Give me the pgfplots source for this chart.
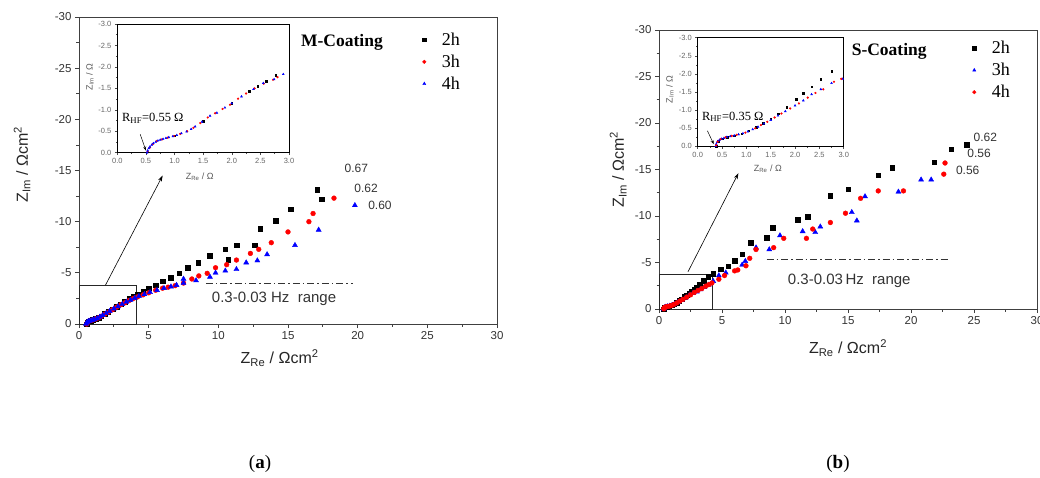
\documentclass[border=0pt]{standalone}
\usepackage{fontspec}
\setmainfont{Liberation Sans}
\newfontfamily\serif{Liberation Serif}
\usepackage{pgfplots}
\pgfplotsset{compat=1.18}
\usetikzlibrary{arrows.meta}

\tikzset{
  ann/.style={font=\fontsize{12}{14}\selectfont, text=black!80},
  hz/.style={font=\fontsize{15}{17}\selectfont, text=black!80},
}
\pgfplotsset{
  mainax/.style={
    scale only axis, clip=false,
    xmin=0, xmax=30, ymin=-30, ymax=0, y dir=reverse,
    xtick={0,5,...,30}, ytick={-30,-25,...,0},
    minor tick num=1, tick align=outside, tick pos=left,
    axis line style={black!75, line width=0.9pt},
    every tick/.style={black!75, line width=0.8pt},
    major tick length=4pt, minor tick length=2.5pt,
    tick label style={font=\fontsize{11.5}{13}\selectfont, text=black!80},
    label style={font=\fontsize{16}{18}\selectfont, text=black!85},
    /pgf/number format/assume math mode=true,
    legend style={draw=none, fill=none, anchor=north west,
      font=\serif\fontsize{18}{20}\selectfont, row sep=4pt},
    legend cell align=left,
    legend image code/.code={
      \path[draw=none, fill=none] (0cm,-0.1cm) rectangle (0.85cm,0.1cm);
      \draw[##1, mark size=1.8pt] plot coordinates {(0.3cm,0cm)};
    },
  },
  inax/.style={
    scale only axis, clip=false,
    axis background/.style={fill=white},
    xmin=0, xmax=3, ymin=-3, ymax=0, y dir=reverse,
    xtick={0,0.5,...,3}, ytick={-3,-2.5,...,0},
    minor tick num=1, tick align=outside, tick pos=left,
    axis line style={black, line width=0.7pt},
    every tick/.style={black!70, line width=0.5pt},
    major tick length=2.5pt, minor tick length=1.5pt,
    tick label style={font=\fontsize{7.5}{8}\selectfont, text=black!60},
    label style={font=\fontsize{9}{10}\selectfont, text=black!65},
    /pgf/number format/.cd, fixed, fixed zerofill, precision=1, assume math mode=true,
  },
  blk/.style={only marks, mark=square*, mark size=2.3pt, black},
  rd/.style={only marks, mark=*, mark size=2.4pt, red},
  bl/.style={only marks, mark=triangle*, mark size=2.9pt, blue},
  iblk/.style={only marks, mark=square*, mark size=0.8pt, black},
  ird/.style={only marks, mark=*, mark size=0.9pt, red},
  ibl/.style={only marks, mark=triangle*, mark size=1.1pt, blue},
  dd/.style={black!80, line width=0.9pt, dash pattern=on 7pt off 3pt on 1.5pt off 3pt, forget plot},
}

\begin{document}
\begin{tikzpicture}
\useasboundingbox (0,0) rectangle (1040pt,-477pt);

% ---------- (a) M-Coating ----------
\begin{axis}[mainax, at={(79pt,-324pt)}, anchor=south west,
    width=418pt, height=307pt,
    xlabel={Z\textsubscript{Re} / Ωcm\textsuperscript{2}},
    ylabel={Z\textsubscript{Im} / Ωcm\textsuperscript{2}},
    xlabel style={at={(axis description cs:0.48,-0.11)}, anchor=center},
    ylabel style={at={(axis description cs:-0.136,0.52)}, anchor=center},
    legend style={at={(rel axis cs:0.798,0.962)}},
  ]
  \addplot[blk] coordinates {
    (0.55,0)(0.6,-0.15)(0.7,-0.28)(0.85,-0.35)(1.0,-0.41)(1.2,-0.5)(1.4,-0.62)
    (1.6,-0.78)(1.85,-0.98)(2.1,-1.2)(2.4,-1.45)(2.7,-1.72)(3.0,-1.95)(3.3,-2.2)
    (3.6,-2.45)(3.9,-2.68)(4.2,-2.9)(4.6,-3.2)(5.0,-3.5)(5.5,-3.8)(6.0,-4.2)
    (6.6,-4.5)(7.2,-4.95)(7.8,-5.5)(8.55,-6.0)(9.4,-6.7)(10.7,-6.3)(10.5,-7.3)
    (11.3,-7.7)(12.6,-7.7)(13.0,-9.3)(14.1,-10.1)(15.2,-11.2)(17.4,-12.2)(17.1,-13.1)
  };
  \addlegendentry{2h}
  \addplot[rd] coordinates {
    (0.55,0)(0.6,-0.14)(0.7,-0.27)(0.85,-0.34)(1.0,-0.4)(1.2,-0.49)(1.4,-0.6)
    (1.6,-0.76)(1.85,-0.96)(2.1,-1.15)(2.4,-1.4)(2.7,-1.65)(3.0,-1.88)(3.3,-2.08)
    (3.6,-2.3)(3.9,-2.5)(4.2,-2.65)(4.6,-2.85)(5.0,-3.05)(5.5,-3.3)(6.0,-3.5)
    (6.4,-3.6)(6.9,-3.75)(7.5,-4.0)(8.1,-4.4)(8.6,-4.7)(9.2,-4.95)(9.8,-5.5)
    (10.6,-5.8)(11.3,-6.25)(12.3,-6.9)(12.9,-7.3)(13.8,-7.95)(15.0,-9.0)
    (16.5,-10.0)(16.8,-10.8)(18.3,-12.3)
  };
  \addlegendentry{3h}
  \addplot[bl] coordinates {
    (0.5,0)(0.55,-0.12)(0.6,-0.2)(0.7,-0.27)(0.8,-0.32)(0.95,-0.38)(1.1,-0.45)
    (1.3,-0.55)(1.5,-0.7)(1.7,-0.85)(1.95,-1.05)(2.2,-1.25)(2.5,-1.5)(2.8,-1.72)
    (3.1,-1.93)(3.4,-2.15)(3.7,-2.35)(4.0,-2.55)(4.3,-2.72)(4.7,-2.9)(5.1,-3.1)
    (5.6,-3.3)(6.1,-3.5)(6.6,-3.65)(7.0,-3.8)(7.5,-4.0)(7.5,-4.4)(8.4,-4.25)
    (9.4,-4.6)(9.8,-5.0)(10.5,-5.2)(11.3,-5.35)(12.0,-6.0)(12.8,-6.2)(13.5,-6.8)
    (15.5,-7.7)(17.2,-9.2)(19.8,-11.6)
  };
  \addlegendentry{4h}
  % 0.3-0.03 Hz marker line
  \addplot[dd] coordinates {(9.1,-4.0)(19.7,-4.0)};
  \node[hz] at (axis cs:14.0,-2.5) {0.3-0.03 Hz\ \ range};
  \node[ann] at (axis cs:19.9,-15.2) {0.67};
  \node[ann] at (axis cs:20.6,-13.3) {0.62};
  \node[ann] at (axis cs:21.6,-11.6) {0.60};
  \node[font=\serif\bfseries\fontsize{17.5}{20}\selectfont] at (rel axis cs:0.629,0.919) {M-Coating};
  \draw[black!85, line width=0.8pt] (axis cs:0,0) rectangle (axis cs:4.1,-3.8);
  \draw[black, line width=0.6pt, -{Stealth[length=6pt,width=4pt]}] (axis cs:1.9,-3.8) -- (axis cs:6.0,-14.5);
\end{axis}

\begin{axis}[inax, at={(117.3pt,-152.7pt)}, anchor=south west,
    width=171.7pt, height=128.7pt,
    xlabel={Z\textsubscript{Re} / Ω},
    ylabel={Z\textsubscript{Im} / Ω},
    xlabel style={at={(axis description cs:0.48,-0.19)}, anchor=center},
    ylabel style={at={(axis description cs:-0.16,0.59)}, anchor=center},
  ]
  \addplot[iblk] coordinates {
    (1.0,-0.40)(1.5,-0.74)(2.0,-1.16)(2.3,-1.43)(2.45,-1.55)(2.6,-1.66)(2.77,-1.81)
  };
  \addplot[ird] coordinates {
    (0.53,-0.03)(0.57,-0.12)(0.62,-0.2)(0.69,-0.27)(0.78,-0.31)(0.88,-0.35)
    (0.99,-0.39)(1.1,-0.44)(1.22,-0.5)(1.33,-0.58)(1.45,-0.69)(1.58,-0.82)
    (1.71,-0.92)(1.84,-1.02)(1.97,-1.12)(2.11,-1.26)(2.25,-1.38)(2.4,-1.5)
    (2.56,-1.61)(2.72,-1.7)(2.8,-1.76)
  };
  \addplot[ibl] coordinates {
    (0.52,0)(0.53,-0.05)(0.55,-0.1)(0.57,-0.14)(0.6,-0.18)(0.63,-0.22)(0.67,-0.25)
    (0.71,-0.28)(0.75,-0.3)(0.8,-0.32)(0.85,-0.34)(0.9,-0.36)(0.97,-0.38)(1.04,-0.41)
    (1.12,-0.45)(1.21,-0.49)(1.29,-0.55)(1.36,-0.61)(1.48,-0.72)(1.62,-0.86)
    (1.74,-0.93)(1.88,-1.05)(2.0,-1.15)(2.17,-1.31)(2.38,-1.48)(2.55,-1.62)
    (2.74,-1.71)(2.9,-1.83)
  };
  \node[font=\serif\fontsize{12.5}{14}\selectfont] at (axis cs:0.62,-0.81) {R\textsubscript{HF}=0.55 Ω};
  \draw[black, line width=0.5pt, -{Stealth[length=4pt,width=3pt]}] (axis cs:0.40,-0.43) -- (axis cs:0.50,-0.05);
\end{axis}

% ---------- (b) S-Coating ----------
\begin{axis}[mainax, at={(659pt,-309pt)}, anchor=south west,
    width=378pt, height=279pt,
    xlabel={Z\textsubscript{Re} / Ωcm\textsuperscript{2}},
    ylabel={Z\textsubscript{Im} / Ωcm\textsuperscript{2}},
    xlabel style={at={(axis description cs:0.5,-0.14)}, anchor=center},
    ylabel style={at={(axis description cs:-0.108,0.5)}, anchor=center},
    legend style={at={(rel axis cs:0.803,0.975)}},
  ]
  \addplot[blk] coordinates {
    (0.38,0)(0.42,-0.14)(0.5,-0.21)(0.65,-0.27)(0.8,-0.31)(1.0,-0.41)(1.2,-0.53)
    (1.4,-0.7)(1.6,-0.87)(1.8,-1.05)(2.0,-1.3)(2.2,-1.5)(2.4,-1.7)(2.6,-1.9)
    (2.8,-2.12)(3.0,-2.35)(3.25,-2.65)(3.55,-3.05)(3.9,-3.5)(4.3,-3.8)(4.9,-4.3)
    (5.5,-4.6)(6.0,-5.2)(6.6,-5.9)(7.3,-7.1)(8.55,-7.7)(9.0,-8.75)(11.0,-9.6)
    (11.8,-9.9)(13.6,-12.2)(15.0,-12.9)(17.4,-14.4)(18.5,-15.2)(21.85,-15.8)
    (23.2,-17.2)(24.4,-17.7)
  };
  \addlegendentry{2h}
  \addplot[bl] coordinates {
    (0.37,0)(0.4,-0.1)(0.45,-0.17)(0.54,-0.22)(0.67,-0.27)(0.84,-0.32)(1.03,-0.4)
    (1.24,-0.53)(1.5,-0.72)(1.8,-0.96)(2.1,-1.2)(2.4,-1.48)(2.7,-1.7)(3.0,-1.86)
    (3.3,-2.1)(3.6,-2.35)(3.95,-2.6)(4.3,-3.0)(4.75,-3.6)(5.3,-3.9)(6.6,-4.75)
    (6.85,-5.15)(7.7,-6.6)(8.75,-6.4)(9.6,-7.9)(11.4,-8.35)(12.4,-8.25)(12.8,-8.85)
    (15.3,-10.4)(15.7,-9.5)(16.35,-12.1)(19.0,-12.6)(20.8,-13.9)(21.6,-13.9)
  };
  \addlegendentry{3h}
  \addplot[rd] coordinates {
    (0.38,-0.02)(0.41,-0.12)(0.47,-0.19)(0.57,-0.24)(0.7,-0.28)(0.85,-0.32)
    (1.0,-0.38)(1.18,-0.49)(1.4,-0.65)(1.65,-0.85)(1.9,-1.04)(2.2,-1.28)(2.5,-1.52)
    (2.8,-1.78)(3.1,-2.0)(3.4,-2.2)(3.7,-2.45)(3.95,-2.62)(4.2,-2.8)(4.75,-3.2)
    (5.2,-3.6)(6.0,-4.1)(6.25,-4.2)(6.9,-4.65)(7.2,-5.45)(7.7,-6.4)(9.1,-6.6)
    (9.9,-7.6)(11.7,-7.6)(12.2,-8.6)(13.6,-9.3)(14.8,-10.3)(16.0,-11.9)(17.4,-12.7)
    (19.4,-12.7)(22.6,-14.5)(22.7,-15.7)
  };
  \addlegendentry{4h}
  \addplot[dd] coordinates {(8.55,-5.3)(23.0,-5.3)};
  \node[hz] at (axis cs:15.1,-3.0) {0.3-0.03\,Hz\ \ range};
  \node[ann] at (axis cs:25.9,-18.5) {0.62};
  \node[ann] at (axis cs:25.4,-16.7) {0.56};
  \node[ann] at (axis cs:24.5,-14.9) {0.56};
  \node[font=\serif\bfseries\fontsize{17.5}{20}\selectfont] at (rel axis cs:0.609,0.922) {S-Coating};
  \draw[black!85, line width=0.8pt] (axis cs:0,0) rectangle (axis cs:4.2,-3.75);
  \draw[black, line width=0.6pt, -{Stealth[length=6pt,width=4pt]}] (axis cs:2.3,-4.0) -- (axis cs:6.3,-14.6);
\end{axis}

\begin{axis}[inax, at={(697.7pt,-146pt)}, anchor=south west,
    width=146pt, height=108.3pt,
    xlabel={Z\textsubscript{Re} / Ω},
    ylabel={Z\textsubscript{Im} / Ω},
    xlabel style={at={(axis description cs:0.48,-0.21)}, anchor=center},
    ylabel style={at={(axis description cs:-0.19,0.52)}, anchor=center},
  ]
  \addplot[iblk] coordinates {
    (0.38,0)(0.42,-0.13)(0.5,-0.2)(0.6,-0.25)(0.75,-0.29)(0.9,-0.34)(1.05,-0.42)
    (1.2,-0.52)(1.35,-0.63)(1.5,-0.76)(1.65,-0.9)(1.83,-1.08)(2.02,-1.30)
    (2.17,-1.46)(2.34,-1.64)(2.53,-1.85)(2.75,-2.08)
  };
  \addplot[ibl] coordinates {
    (0.37,0)(0.38,-0.05)(0.4,-0.1)(0.42,-0.14)(0.45,-0.17)(0.49,-0.2)(0.54,-0.22)
    (0.6,-0.25)(0.67,-0.27)(0.75,-0.29)(0.84,-0.32)(0.93,-0.35)(1.03,-0.4)
    (1.13,-0.46)(1.24,-0.53)(1.36,-0.62)(1.5,-0.72)(1.65,-0.84)(1.8,-0.96)
    (2.0,-1.12)(2.17,-1.26)(2.34,-1.43)(2.53,-1.57)(2.75,-1.74)(2.98,-1.86)
  };
  \addplot[ird] coordinates {
    (0.38,-0.02)(0.41,-0.12)(0.47,-0.19)(0.57,-0.24)(0.7,-0.28)(0.8,-0.31)
    (0.98,-0.37)(1.18,-0.49)(1.3,-0.58)(1.43,-0.67)(1.58,-0.79)(1.72,-0.9)
    (1.9,-1.04)(2.08,-1.18)(2.26,-1.34)(2.42,-1.47)(2.58,-1.57)(2.8,-1.78)(2.95,-1.86)
  };
  \node[font=\serif\fontsize{12.5}{14}\selectfont] at (axis cs:0.72,-0.81) {R\textsubscript{HF}=0.35 Ω};
  \draw[black, line width=0.5pt, -{Stealth[length=4pt,width=3pt]}] (axis cs:0.2,-0.42) -- (axis cs:0.33,-0.05);
\end{axis}

\node[font=\serif\fontsize{19}{21}\selectfont] at (260pt,-464pt) {(\textbf{a})};
\node[font=\serif\fontsize{19}{21}\selectfont] at (838pt,-464pt) {(\textbf{b})};
\end{tikzpicture}
\end{document}
